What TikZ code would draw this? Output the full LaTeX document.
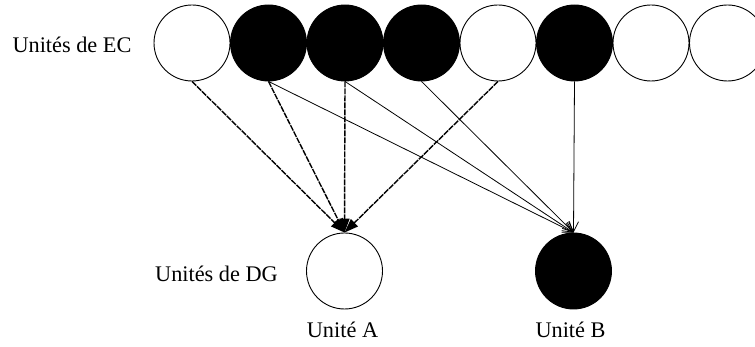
\documentclass[tikz,border=0pt]{standalone}
\usepackage{fontspec}
\setmainfont{Liberation Serif}
\usetikzlibrary{arrows.meta}
\begin{document}
\begin{tikzpicture}[x=1pt,y=1pt,
  unit/.style={circle,draw,line width=0.9pt,minimum size=76pt,inner sep=0pt,fill=white},
  on/.style={unit,fill=black},
  lbl/.style={font=\fontsize{22.3}{26}\selectfont,inner sep=0pt,anchor=base},
  toA/.style={line width=1.4pt,dash pattern=on 6pt off 1pt,-{Triangle[length=14pt,width=10pt]}},
  toB/.style={line width=0.8pt,-{Straight Barb[length=10pt,width=10pt,line width=0.8pt]}}]
\clip (0,0) rectangle (755,347);
\useasboundingbox (0,0) rectangle (755,347);
\node[unit] (ec1) at (192,304) {};
\node[on]   (ec2) at (268.5,304) {};
\node[on]   (ec3) at (345,304) {};
\node[on]   (ec4) at (421.5,304) {};
\node[unit] (ec5) at (498,304) {};
\node[on]   (ec6) at (574.5,304) {};
\node[unit] (ec7) at (651,304) {};
\node[unit] (ec8) at (727.5,304) {};
\node[unit] (dgA) at (344.5,76) {};
\node[on]   (dgB) at (573.5,76) {};
\node[lbl] (lec) at (72,294) {Unités de EC};
\node[lbl,anchor=base east] (ldg) at (278,65) {Unités de DG};
\node[lbl] (la) at (342.5,9) {Unité A};
\node[lbl] (lb) at (570.5,9) {Unité B};
\foreach \s in {ec1,ec2,ec3,ec5} \draw[toA] (\s.south) -- (dgA.north);
\foreach \s in {ec2,ec3,ec4,ec6} \draw[toB] (\s.south) -- (dgB.north);
\end{tikzpicture}
\end{document}
